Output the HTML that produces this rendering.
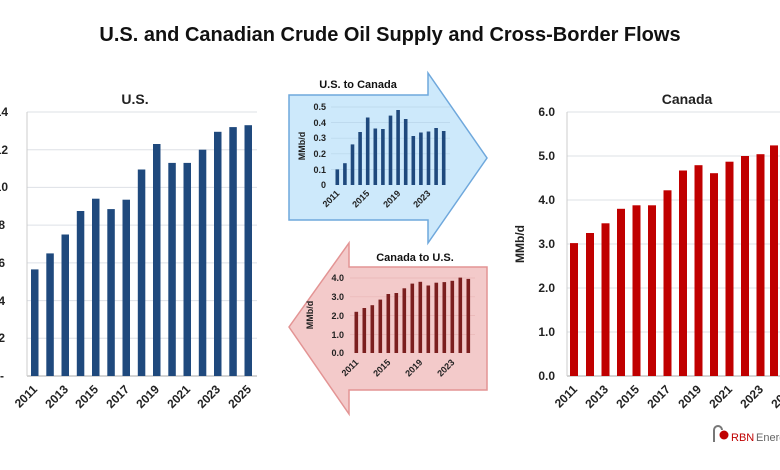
<!DOCTYPE html>
<html><head><meta charset="utf-8"><style>
body{margin:0;background:#fff;}
svg{display:block;font-family:"Liberation Sans",sans-serif;}
</style></head><body>
<svg width="780" height="470" viewBox="0 0 780 470" xmlns="http://www.w3.org/2000/svg">
<rect width="780" height="470" fill="#fff"/>
<text x="390" y="41" text-anchor="middle" font-size="20" font-weight="bold" fill="#111">U.S. and Canadian Crude Oil Supply and Cross-Border Flows</text>

<!-- US chart -->
<text x="135" y="104" text-anchor="middle" font-size="14" font-weight="bold" fill="#222">U.S.</text>
<g stroke="#dde0e6" stroke-width="1">
<line x1="27" x2="257" y1="112" y2="112"/><line x1="27" x2="257" y1="149.7" y2="149.7"/><line x1="27" x2="257" y1="187.4" y2="187.4"/><line x1="27" x2="257" y1="225.1" y2="225.1"/><line x1="27" x2="257" y1="262.9" y2="262.9"/><line x1="27" x2="257" y1="300.6" y2="300.6"/><line x1="27" x2="257" y1="338.3" y2="338.3"/>
</g>
<line x1="27" x2="257" y1="376" y2="376" stroke="#aaa"/>
<line x1="27" x2="27" y1="112" y2="376" stroke="#ccc"/>
<g font-size="12" font-weight="bold" fill="#222" text-anchor="end">
<text x="8" y="116">14</text><text x="8" y="154">12</text><text x="8" y="191">10</text><text x="5" y="229">8</text><text x="5" y="267">6</text><text x="5" y="305">4</text><text x="5" y="342">2</text><text x="4" y="380">-</text>
</g>
<g fill="#1f497d">
<rect x="31" y="269.4" width="7.5" height="106.6"/>
<rect x="46.3" y="253.4" width="7.5" height="122.6"/>
<rect x="61.5" y="234.5" width="7.5" height="141.5"/>
<rect x="76.8" y="211" width="7.5" height="165"/>
<rect x="92" y="198.7" width="7.5" height="177.3"/>
<rect x="107.3" y="209.1" width="7.5" height="166.9"/>
<rect x="122.5" y="199.7" width="7.5" height="176.3"/>
<rect x="137.8" y="169.5" width="7.5" height="206.5"/>
<rect x="153" y="144" width="7.5" height="232"/>
<rect x="168.3" y="162.9" width="7.5" height="213.1"/>
<rect x="183.5" y="162.9" width="7.5" height="213.1"/>
<rect x="198.8" y="149.7" width="7.5" height="226.3"/>
<rect x="214" y="131.8" width="7.5" height="244.2"/>
<rect x="229.3" y="127.1" width="7.5" height="248.9"/>
<rect x="244.5" y="125.2" width="7.5" height="250.8"/>
</g>
<g font-size="12" font-weight="bold" fill="#222" text-anchor="end">
<text transform="translate(38,390) rotate(-45)">2011</text>
<text transform="translate(69,390) rotate(-45)">2013</text>
<text transform="translate(99,390) rotate(-45)">2015</text>
<text transform="translate(130,390) rotate(-45)">2017</text>
<text transform="translate(160,390) rotate(-45)">2019</text>
<text transform="translate(191,390) rotate(-45)">2021</text>
<text transform="translate(221,390) rotate(-45)">2023</text>
<text transform="translate(252,390) rotate(-45)">2025</text>
</g>

<!-- Blue arrow -->
<polygon points="289,95 428,95 428,73 487,158 428,243 428,220 289,220" fill="#cde9fb" stroke="#6fa8dc" stroke-width="1.5"/>
<text x="358" y="88" text-anchor="middle" font-size="11" font-weight="bold" fill="#111">U.S. to Canada</text>
<g stroke="#b9d6ea" stroke-width="0.7">
<line x1="331" x2="450" y1="107" y2="107"/><line x1="331" x2="450" y1="122.6" y2="122.6"/><line x1="331" x2="450" y1="138.2" y2="138.2"/><line x1="331" x2="450" y1="153.8" y2="153.8"/><line x1="331" x2="450" y1="169.4" y2="169.4"/>
</g>
<g font-size="9" font-weight="bold" fill="#222" text-anchor="end">
<text x="326" y="110">0.5</text><text x="326" y="126">0.4</text><text x="326" y="141">0.3</text><text x="326" y="157">0.2</text><text x="326" y="173">0.1</text><text x="326" y="188">0</text>
</g>
<text transform="translate(305,146) rotate(-90)" text-anchor="middle" font-size="9" font-weight="bold" fill="#222">MMb/d</text>
<g fill="#1f497d">
<rect x="335.5" y="169.4" width="3.6" height="15.6"/>
<rect x="343.1" y="163.2" width="3.6" height="21.8"/>
<rect x="350.7" y="144.4" width="3.6" height="40.6"/>
<rect x="358.3" y="132" width="3.6" height="53"/>
<rect x="365.9" y="117.5" width="3.6" height="67.5"/>
<rect x="373.5" y="128.5" width="3.6" height="56.5"/>
<rect x="381.1" y="129" width="3.6" height="56"/>
<rect x="388.7" y="115.6" width="3.6" height="69.4"/>
<rect x="396.3" y="110" width="3.6" height="75"/>
<rect x="403.9" y="119" width="3.6" height="66"/>
<rect x="411.5" y="136" width="3.6" height="49"/>
<rect x="419.1" y="132.5" width="3.6" height="52.5"/>
<rect x="426.7" y="131.5" width="3.6" height="53.5"/>
<rect x="434.3" y="128" width="3.6" height="57"/>
<rect x="441.9" y="131" width="3.6" height="54"/>
</g>
<g font-size="9" font-weight="bold" fill="#222" text-anchor="end">
<text transform="translate(340,194) rotate(-45)">2011</text>
<text transform="translate(370,194) rotate(-45)">2015</text>
<text transform="translate(401,194) rotate(-45)">2019</text>
<text transform="translate(431,194) rotate(-45)">2023</text>
</g>

<!-- Red arrow -->
<polygon points="487,267 349,267 349,243 289,327 349,414 349,390 487,390" fill="#f3caca" stroke="#e39494" stroke-width="1.5"/>
<text x="415" y="261" text-anchor="middle" font-size="11" font-weight="bold" fill="#111">Canada to U.S.</text>
<g stroke="#e8b5b5" stroke-width="0.7">
<line x1="350" x2="475" y1="278" y2="278"/><line x1="350" x2="475" y1="296.8" y2="296.8"/><line x1="350" x2="475" y1="315.5" y2="315.5"/><line x1="350" x2="475" y1="334.3" y2="334.3"/>
</g>
<g font-size="9" font-weight="bold" fill="#222" text-anchor="end">
<text x="344" y="281">4.0</text><text x="344" y="300">3.0</text><text x="344" y="319">2.0</text><text x="344" y="338">1.0</text><text x="344" y="356">0.0</text>
</g>
<text transform="translate(313,315) rotate(-90)" text-anchor="middle" font-size="9" font-weight="bold" fill="#222">MMb/d</text>
<g fill="#7b1f1f">
<rect x="354.5" y="311.8" width="3.6" height="41.2"/>
<rect x="362.5" y="308" width="3.6" height="45"/>
<rect x="370.5" y="305.2" width="3.6" height="47.8"/>
<rect x="378.5" y="299.6" width="3.6" height="53.4"/>
<rect x="386.5" y="294" width="3.6" height="59"/>
<rect x="394.5" y="293" width="3.6" height="60"/>
<rect x="402.5" y="288.3" width="3.6" height="64.7"/>
<rect x="410.5" y="283.6" width="3.6" height="69.4"/>
<rect x="418.5" y="281.8" width="3.6" height="71.2"/>
<rect x="426.5" y="285.5" width="3.6" height="67.5"/>
<rect x="434.5" y="282.7" width="3.6" height="70.3"/>
<rect x="442.5" y="282.1" width="3.6" height="70.9"/>
<rect x="450.5" y="280.8" width="3.6" height="72.2"/>
<rect x="458.5" y="277.6" width="3.6" height="75.4"/>
<rect x="466.5" y="278.9" width="3.6" height="74.1"/>
</g>
<g font-size="9" font-weight="bold" fill="#222" text-anchor="end">
<text transform="translate(359,363) rotate(-45)">2011</text>
<text transform="translate(391,363) rotate(-45)">2015</text>
<text transform="translate(423,363) rotate(-45)">2019</text>
<text transform="translate(455,363) rotate(-45)">2023</text>
</g>

<!-- Canada chart -->
<text x="687" y="104" text-anchor="middle" font-size="14" font-weight="bold" fill="#222">Canada</text>
<g stroke="#dde0e6" stroke-width="1">
<line x1="567" x2="780" y1="112" y2="112"/><line x1="567" x2="780" y1="156" y2="156"/><line x1="567" x2="780" y1="200" y2="200"/><line x1="567" x2="780" y1="244" y2="244"/><line x1="567" x2="780" y1="288" y2="288"/><line x1="567" x2="780" y1="332" y2="332"/>
</g>
<line x1="567" x2="780" y1="376" y2="376" stroke="#aaa"/>
<line x1="567" x2="567" y1="112" y2="376" stroke="#ccc"/>
<g font-size="12" font-weight="bold" fill="#222" text-anchor="end">
<text x="555" y="116">6.0</text><text x="555" y="160">5.0</text><text x="555" y="204">4.0</text><text x="555" y="248">3.0</text><text x="555" y="292">2.0</text><text x="555" y="336">1.0</text><text x="555" y="380">0.0</text>
</g>
<text transform="translate(524,244) rotate(-90)" text-anchor="middle" font-size="12" font-weight="bold" fill="#222">MMb/d</text>
<g fill="#c00000">
<rect x="570" y="243.1" width="8" height="132.9"/>
<rect x="586" y="233" width="8" height="143"/>
<rect x="601.5" y="223.3" width="8" height="152.7"/>
<rect x="617" y="208.8" width="8" height="167.2"/>
<rect x="632.5" y="205.3" width="8" height="170.7"/>
<rect x="648" y="205.3" width="8" height="170.7"/>
<rect x="663.5" y="190.3" width="8" height="185.7"/>
<rect x="679" y="170.5" width="8" height="205.5"/>
<rect x="694.5" y="165.2" width="8" height="210.8"/>
<rect x="710" y="173.2" width="8" height="202.8"/>
<rect x="725.5" y="161.7" width="8" height="214.3"/>
<rect x="741" y="156" width="8" height="220"/>
<rect x="756.5" y="154.2" width="8" height="221.8"/>
<rect x="770" y="145.4" width="8" height="230.6"/>
</g>
<g font-size="12" font-weight="bold" fill="#222" text-anchor="end">
<text transform="translate(578,390) rotate(-45)">2011</text>
<text transform="translate(609,390) rotate(-45)">2013</text>
<text transform="translate(640,390) rotate(-45)">2015</text>
<text transform="translate(671,390) rotate(-45)">2017</text>
<text transform="translate(702,390) rotate(-45)">2019</text>
<text transform="translate(733,390) rotate(-45)">2021</text>
<text transform="translate(764,390) rotate(-45)">2023</text>
<text transform="translate(795,390) rotate(-45)">2025</text>
</g>
<!-- logo -->
<path d="M714,442 v-12 a4,4 0 0 1 8,0" fill="none" stroke="#777" stroke-width="2"/>
<circle cx="724" cy="435" r="4.5" fill="#c00000"/>
<text x="731" y="441" font-size="11" fill="#c00000">RBN</text><text x="756" y="441" font-size="11" fill="#666">Energy</text>
</svg>
</body></html>
